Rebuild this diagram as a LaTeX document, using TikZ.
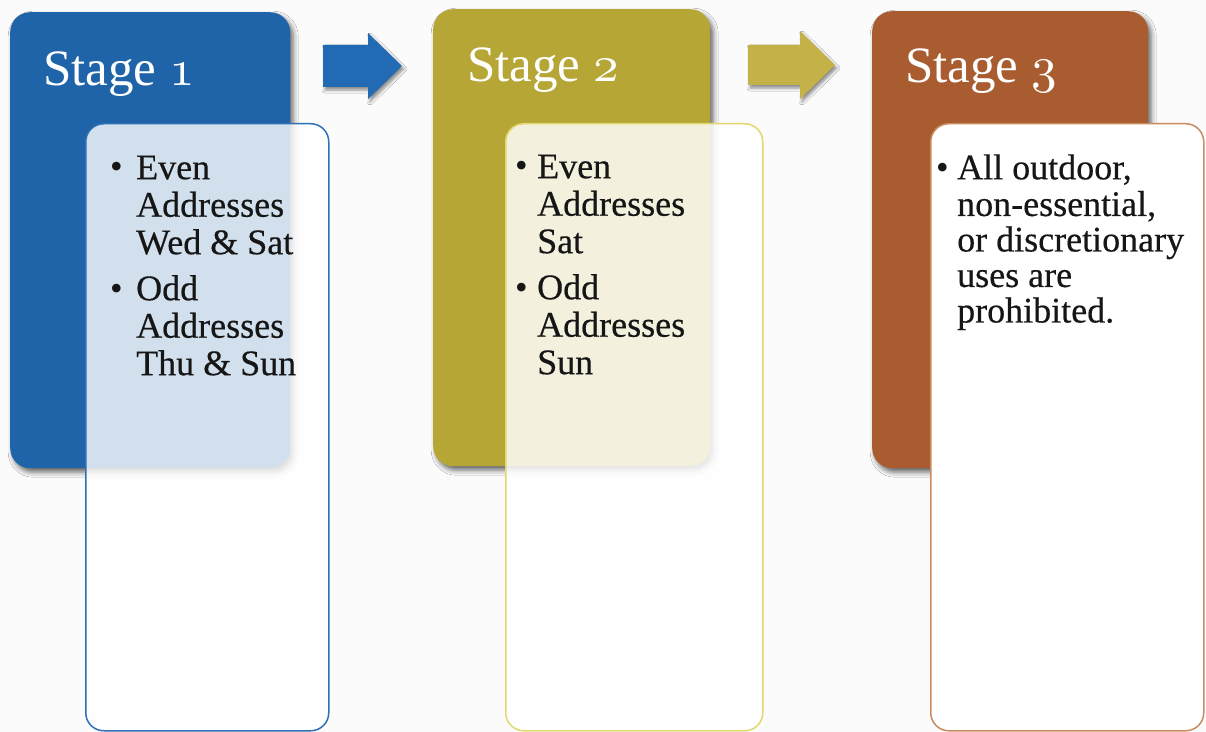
\documentclass[tikz,border=0pt]{standalone}
\usepackage{graphicx}
\usepackage{fontspec}
\setmainfont{Liberation Serif}
\usetikzlibrary{shadows.blur}
\definecolor{bgc}{RGB}{251,251,251}
\definecolor{blueD}{RGB}{31,100,168}
\definecolor{blueL}{RGB}{47,112,182}
\definecolor{blueA}{RGB}{34,106,180}
\definecolor{goldD}{RGB}{182,166,54}
\definecolor{goldL}{RGB}{226,216,110}
\definecolor{goldA}{RGB}{196,178,72}
\definecolor{brownD}{RGB}{168,92,48}
\definecolor{brownL}{RGB}{200,140,95}
\definecolor{txt}{RGB}{22,22,22}
\newcommand{\osnum}[1]{\scalebox{5.12}{\fontsize{10pt}{12pt}\usefont{OML}{lmm}{m}{it}#1}}
\tikzset{
  darkbox/.style={rounded corners=20bp, anchor=north west, inner sep=0pt,
    blur shadow={shadow xshift=3bp, shadow yshift=-4bp, shadow blur radius=5bp, shadow opacity=60}},
  lightbox/.style={rounded corners=18bp, anchor=north west, inner sep=0pt, line width=1.5bp},
  headtxt/.style={anchor=base west, inner sep=0pt, text=white, font=\fontsize{51bp}{55bp}\selectfont},
  bodytxt/.style={anchor=north west, inner sep=0pt, align=left, text=txt, font=\fontsize{36bp}{37.5bp}\selectfont\addfontfeature{FakeBold=0.4}},
  bodytxtc/.style={anchor=north west, inner sep=0pt, align=left, text=txt, font=\fontsize{36bp}{35.5bp}\selectfont\addfontfeature{FakeBold=0.4}},
  bul/.style={anchor=base west, inner sep=0pt, text=txt, font=\fontsize{36bp}{37.5bp}\selectfont},
  blockarrow/.style={blur shadow={shadow xshift=2bp, shadow yshift=-3bp, shadow blur radius=3bp, shadow opacity=45}}
}
\begin{document}
\begin{tikzpicture}[x=1bp,y=-1bp]
\useasboundingbox (0,0) rectangle (1206,732);
\fill[bgc] (0,0) rectangle (1206,732);

% Stage 1
\node[darkbox, fill=blueD, minimum width=280bp, minimum height=456bp] (d1) at (10,12) {};
\node[headtxt] (h1) at (43,86) {Stage \osnum{1}};
\node[lightbox, draw=blueL, fill=white, fill opacity=0.8, minimum width=243bp, minimum height=607bp] (l1) at (85,123) {};
\node[bul] (b1a) at (110,179) {•};
\node[bodytxt] (t1a) at (136,152.75) {\strut Even\\Addresses\\Wed \& Sat};
\node[bul] (b1b) at (110,300) {•};
\node[bodytxt] (t1b) at (136,273.75) {\strut Odd\\Addresses\\Thu \& Sun};

% Arrow 1
\fill[blueA, blockarrow] (323,45) -- (368,45) -- (368,33) -- (402,66) -- (368,99) -- (368,87) -- (323,87) -- cycle;

% Stage 2
\node[darkbox, fill=goldD, minimum width=277bp, minimum height=457bp] (d2) at (433,9) {};
\node[headtxt] (h2) at (467,82) {Stage \osnum{2}};
\node[lightbox, draw=goldL, fill=white, fill opacity=0.84, minimum width=257bp, minimum height=607bp] (l2) at (505,123) {};
\node[bul] (b2a) at (515,178) {•};
\node[bodytxt] (t2a) at (537,151.75) {\strut Even\\Addresses\\Sat};
\node[bul] (b2b) at (515,299) {•};
\node[bodytxt] (t2b) at (537,272.75) {\strut Odd\\Addresses\\Sun};

% Arrow 2
\fill[goldA, blockarrow] (748,45) -- (800,45) -- (800,31) -- (835,65) -- (800,99) -- (800,85) -- (748,85) -- cycle;

% Stage 3
\node[darkbox, fill=brownD, minimum width=276bp, minimum height=457bp] (d3) at (872,11) {};
\node[headtxt] (h3) at (905,83) {Stage \osnum{3}};
\node[lightbox, draw=brownL, fill=white, minimum width=273bp, minimum height=607bp] (l3) at (930,123) {};
\node[bul] (b3a) at (936,180) {•};
\node[bodytxtc] (t3a) at (957,154.15) {\strut All outdoor,\\non-essential,\\or discretionary\\uses are\\prohibited.};
\end{tikzpicture}
\end{document}
